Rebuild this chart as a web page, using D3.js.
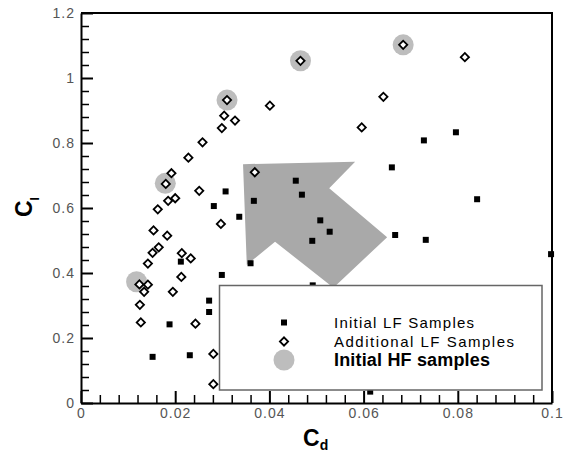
<!DOCTYPE html>
<html>
<head>
<meta charset="utf-8">
<script src="https://cdn.jsdelivr.net/npm/d3@7"></script>
<style>
body { margin: 0; background: #fff; }
svg { display: block; font-family: "Liberation Sans", Arial, sans-serif; }
</style>
</head>
<body>
<svg id="chart" width="568" height="453"></svg>
<script>
'use strict';

// tick values
var xTicks = [0, 0.02, 0.04, 0.06, 0.08, 0.1];
var yTicks = [0, 0.2, 0.4, 0.6, 0.8, 1, 1.2];

// [Cd, Cl]
var initialLF = [
	[0.0796, 0.833], [0.0728, 0.808], [0.0660, 0.725], [0.0841, 0.627],
	[0.0667, 0.517], [0.0732, 0.502], [0.0998, 0.458], [0.0456, 0.684],
	[0.0469, 0.641], [0.0307, 0.651], [0.0367, 0.622], [0.0282, 0.606],
	[0.0336, 0.573], [0.0508, 0.562], [0.0528, 0.527], [0.0491, 0.499],
	[0.0360, 0.430], [0.0212, 0.435], [0.0299, 0.394], [0.0492, 0.362],
	[0.0272, 0.315], [0.0272, 0.280], [0.0188, 0.242], [0.0152, 0.142],
	[0.0231, 0.147], [0.0614, 0.035]
];

var additionalLF = [
	[0.0684, 1.102], [0.0815, 1.064], [0.0466, 1.053], [0.0642, 0.942],
	[0.0310, 0.932], [0.0401, 0.915], [0.0304, 0.884], [0.0327, 0.869],
	[0.0299, 0.846], [0.0596, 0.848], [0.0258, 0.802], [0.0228, 0.755],
	[0.0192, 0.707], [0.0180, 0.674], [0.0251, 0.653], [0.0200, 0.630],
	[0.0185, 0.622], [0.0163, 0.596], [0.0369, 0.710], [0.0297, 0.551],
	[0.0154, 0.531], [0.0183, 0.515], [0.0165, 0.479], [0.0152, 0.462],
	[0.0142, 0.429], [0.0214, 0.461], [0.0233, 0.445], [0.0213, 0.388],
	[0.0124, 0.365], [0.0142, 0.364], [0.0134, 0.342], [0.0195, 0.342],
	[0.0125, 0.302], [0.0127, 0.248], [0.0243, 0.244], [0.0281, 0.151],
	[0.0281, 0.058]
];

var initialHF = [
	[0.0684, 1.102], [0.0466, 1.053], [0.0310, 0.932], [0.0179, 0.676], [0.0118, 0.373]
];

// big arrow outline, data coords
var arrowShape = [
	[0.0344, 0.735], [0.0582, 0.742], [0.0527, 0.661], [0.0650, 0.510],
	[0.0536, 0.355], [0.0412, 0.496], [0.0352, 0.425]
];

var legendLabels = ['Initial LF Samples', 'Additional LF Samples', 'Initial HF samples'];

var svg = d3.select('#chart');

var x = d3.scaleLinear().domain([0, 0.1]).range([81, 552]);
var y = d3.scaleLinear().domain([0, 1.2]).range([403, 13]);

var xMinor = d3.range(0, 26).map(i => +(i * 0.004).toFixed(3)).filter(v => xTicks.indexOf(v) < 0);
var yMinor = d3.range(0, 31).map(i => +(i * 0.04).toFixed(2)).filter(v => yTicks.indexOf(v) < 0);

// frame top / right
svg.append('path')
	.attr('d', `M${x(0)},${y(1.2)}H${x(0.1)}V${y(0)}`)
	.attr('fill', 'none')
	.attr('stroke', '#000')
	.attr('stroke-width', 2);

// minor ticks
svg.append('g')
	.attr('transform', `translate(0,${y(0)})`)
	.call(d3.axisBottom(x).tickValues(xMinor).tickSize(-8).tickSizeOuter(0).tickFormat(''))
	.call(g => g.select('.domain').remove())
	.selectAll('line').attr('stroke-width', 1.5);
svg.append('g')
	.attr('transform', `translate(${x(0)},0)`)
	.call(d3.axisLeft(y).tickValues(yMinor).tickSize(-8).tickSizeOuter(0).tickFormat(''))
	.call(g => g.select('.domain').remove())
	.selectAll('line').attr('stroke-width', 1.5);

// major axes
var fmt = d => String(+d.toFixed(2));
var xAxis = svg.append('g')
	.attr('transform', `translate(0,${y(0)})`)
	.call(d3.axisBottom(x).tickValues(xTicks).tickSize(-12).tickSizeOuter(0).tickPadding(5).tickFormat(fmt));
var yAxis = svg.append('g')
	.attr('transform', `translate(${x(0)},0)`)
	.call(d3.axisLeft(y).tickValues(yTicks).tickSize(-12).tickSizeOuter(0).tickPadding(6).tickFormat(fmt));

[xAxis, yAxis].forEach(function(g)
{
	g.select('.domain').attr('stroke-width', 2);
	g.selectAll('line').attr('stroke-width', 2);
	g.selectAll('text')
		.attr('fill', '#555')
		.style('font-size', '14px')
		.style('letter-spacing', '1px')
		.style('font-family', '"Liberation Sans", Arial, sans-serif');
});

// arrow
svg.append('path')
	.attr('d', d3.line().x(d => x(d[0])).y(d => y(d[1])).curve(d3.curveLinearClosed)(arrowShape))
	.attr('fill', '#a9a9a9');

// HF circles
svg.append('g')
	.selectAll('circle')
	.data(initialHF)
	.join('circle')
	.attr('cx', d => x(d[0]))
	.attr('cy', d => y(d[1]))
	.attr('r', 10.5)
	.attr('fill', '#bdbdbd');

var squareSym = d3.symbol(d3.symbolSquare, 36);
var diamondSym = d3.symbol(d3.symbolSquare, 34);

svg.append('g')
	.selectAll('path')
	.data(initialLF)
	.join('path')
	.attr('d', squareSym)
	.attr('transform', d => `translate(${x(d[0])},${y(d[1])})`)
	.attr('fill', '#000');

svg.append('g')
	.selectAll('path')
	.data(additionalLF)
	.join('path')
	.attr('d', diamondSym)
	.attr('transform', d => `translate(${x(d[0])},${y(d[1])}) rotate(45)`)
	.attr('fill', '#fff')
	.attr('stroke', '#000')
	.attr('stroke-width', 1.8);

// legend
var legend = svg.append('g');
legend.append('rect')
	.attr('x', 219.5).attr('y', 285.5)
	.attr('width', 322.5).attr('height', 104.5)
	.attr('fill', '#fff')
	.attr('stroke', '#666')
	.attr('stroke-width', 1.5);

legend.append('path')
	.attr('d', squareSym)
	.attr('transform', 'translate(284,322.5)')
	.attr('fill', '#000');
legend.append('path')
	.attr('d', diamondSym)
	.attr('transform', 'translate(284,341.5) rotate(45)')
	.attr('fill', '#fff')
	.attr('stroke', '#000')
	.attr('stroke-width', 1.8);
legend.append('circle')
	.attr('cx', 284).attr('cy', 360)
	.attr('r', 10.5)
	.attr('fill', '#bdbdbd');

var legendRows = [
	{ y: 327.5, size: 15, weight: 'normal', len: 140 },
	{ y: 346.5, size: 15, weight: 'normal', len: 180 },
	{ y: 366, size: 18, weight: 'bold', len: 156 }
];
legend.selectAll('text')
	.data(legendLabels)
	.join('text')
	.attr('x', 334)
	.attr('y', (d, i) => legendRows[i].y)
	.attr('textLength', (d, i) => legendRows[i].len)
	.attr('lengthAdjust', 'spacing')
	.style('font-size', (d, i) => legendRows[i].size + 'px')
	.style('font-weight', (d, i) => legendRows[i].weight)
	.attr('fill', '#000')
	.text(d => d);

// axis titles
var xt = svg.append('text')
	.attr('x', 303).attr('y', 446)
	.style('font-size', '23px')
	.style('font-weight', 'bold')
	.text('C');
xt.append('tspan').attr('dy', 4).style('font-size', '14px').text('d');

var yt = svg.append('text')
	.attr('transform', 'translate(32,217) rotate(-90)')
	.style('font-size', '23px')
	.style('font-weight', 'bold')
	.text('C');
yt.append('tspan').attr('dy', 7).style('font-size', '12px').text('l');
</script>
</body>
</html>
